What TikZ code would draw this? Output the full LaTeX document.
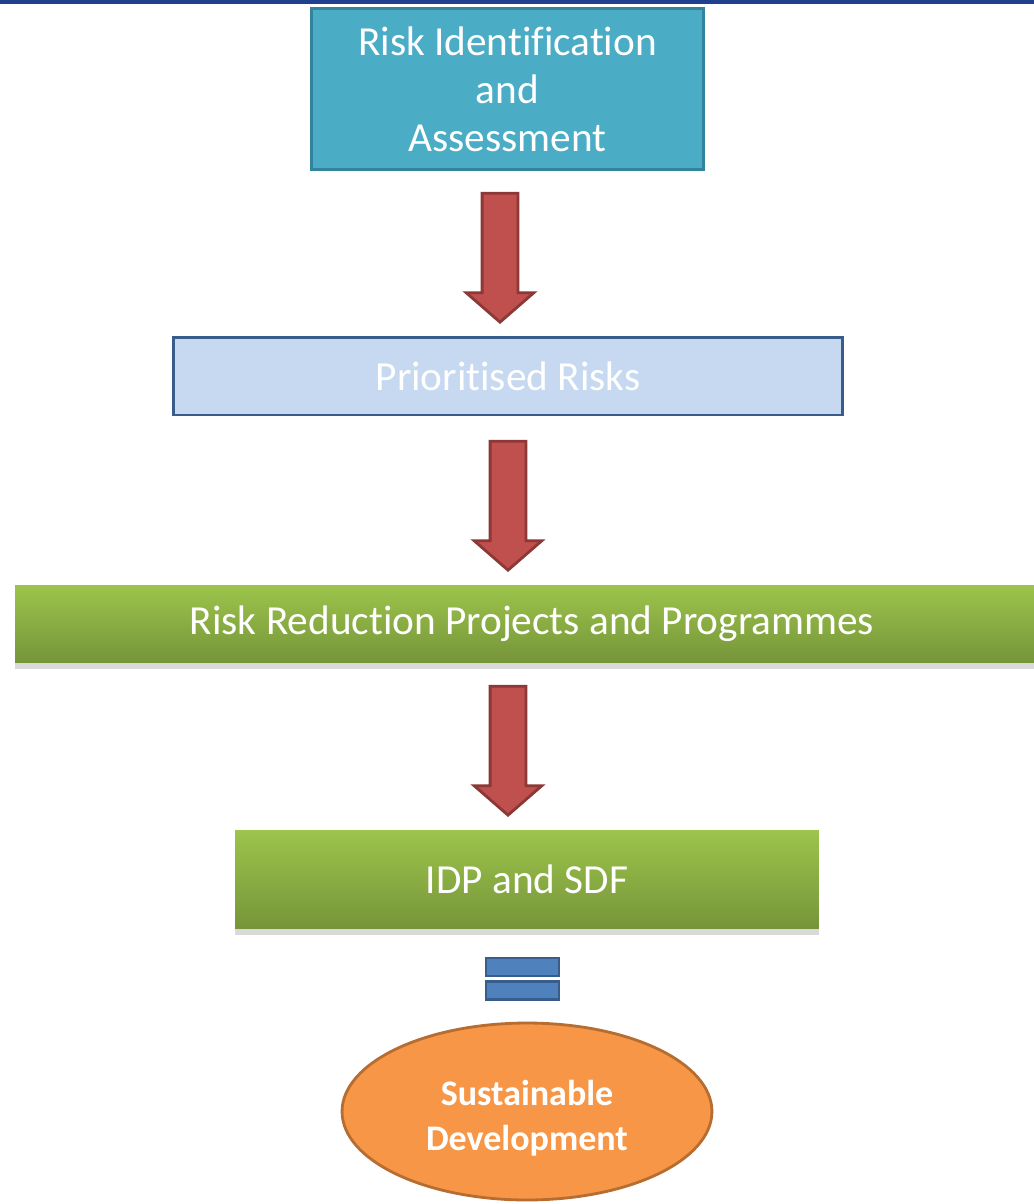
\documentclass[tikz,border=0pt]{standalone}
\usepackage{fontspec}
\setmainfont{Carlito}[Ligatures=NoCommon]
\usepackage{tikz}
\usetikzlibrary{shapes.arrows,shapes.geometric,shadows}
\definecolor{topline}{HTML}{1F3F8F}
\definecolor{aquafill}{HTML}{4BACC6}
\definecolor{aqualine}{HTML}{31849B}
\definecolor{paleblue}{HTML}{C6D9F1}
\definecolor{blueline}{HTML}{385D8A}
\definecolor{bluefill}{HTML}{4F81BD}
\definecolor{redfill}{HTML}{C0504D}
\definecolor{redline}{HTML}{8C3836}
\definecolor{greentop}{HTML}{9DC44B}
\definecolor{greenbot}{HTML}{76953A}
\definecolor{orangefill}{HTML}{F79646}
\definecolor{orangeline}{HTML}{B66D31}
\tikzset{
  boxtext/.style={text=white,font=\fontsize{23.5}{27.3}\selectfont,align=center},
  greenbox/.style={rectangle,top color=greentop,bottom color=greenbot,boxtext,
    drop shadow={opacity=0.3,shadow xshift=0pt,shadow yshift=-4pt}},
  downarrow/.style={single arrow,draw=redline,fill=redfill,line width=1.6pt,
    shape border rotate=270,minimum height=2.58cm,inner sep=0.33cm,
    single arrow head extend=0.32cm,single arrow tip angle=98,anchor=tip},
  eqbar/.style={rectangle,draw=blueline,fill=bluefill,line width=1.6pt,
    minimum width=1.46cm,minimum height=0.36cm,inner sep=0pt}
}
\begin{document}
\begin{tikzpicture}[x=0.02cm,y=-0.02cm]
  \useasboundingbox (0,0) rectangle (1034,1204);
  \draw[topline,line width=3pt] (0,1) -- (1034,1);

  % boxes
  \node[rectangle,draw=aqualine,fill=aquafill,line width=1.7pt,boxtext,
    minimum width=7.86cm,minimum height=3.24cm] (riskid) at (507.5,89)
    {Risk Identification\\and\\Assessment};
  \node[rectangle,draw=blueline,fill=paleblue,line width=1.7pt,boxtext,
    minimum width=13.4cm,minimum height=1.56cm] (prio) at (508,376) {Prioritised Risks};
  \node[greenbox,minimum width=20.68cm,minimum height=1.54cm] (reduction) at (532,623.5)
    {Risk Reduction Projects and Programmes};
  \node[greenbox,minimum width=11.68cm,minimum height=1.96cm] (idp) at (527,879) {IDP and SDF};

  % arrows
  \node[downarrow] (arrA) at (500,324) {};
  \node[downarrow] (arrB) at (508,572) {};
  \node[downarrow] (arrC) at (508,817) {};

  % equals sign
  \node[eqbar] (eqtop) at (522.5,967) {};
  \node[eqbar] (eqbot) at (522.5,990.5) {};

  \node[ellipse,draw=orangeline,fill=orangefill,line width=1.6pt,text=white,
    font=\fontsize{20.5}{25.6}\selectfont\bfseries,align=center,
    minimum width=7.4cm,minimum height=3.54cm] (sustdev) at (527,1111.5)
    {\rule{0pt}{21.5pt}Sustainable\\Development};
\end{tikzpicture}
\end{document}
